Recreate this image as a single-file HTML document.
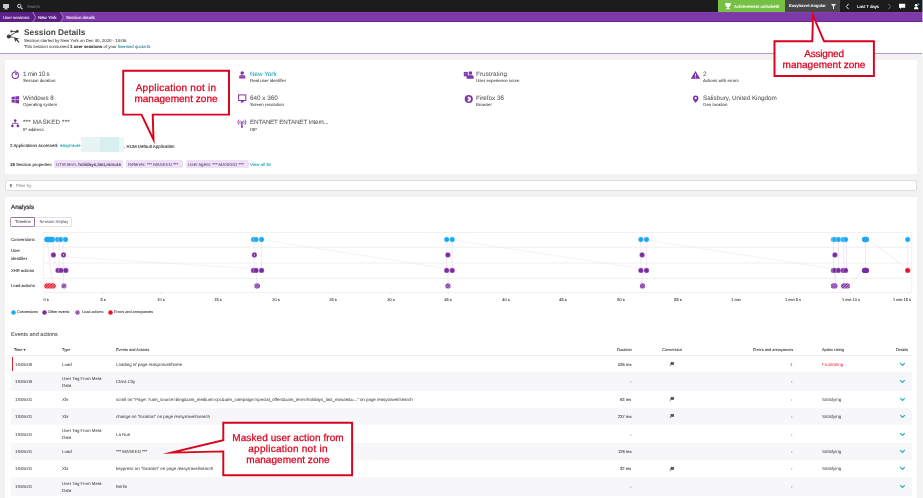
<!DOCTYPE html>
<html><head><meta charset="utf-8"><title>Session Details</title>
<style>
html,body{margin:0;padding:0;}
body{width:923px;height:498px;overflow:hidden;position:relative;background:#f2f2f2;font-family:"Liberation Sans", sans-serif;}
.t{position:absolute;white-space:nowrap;line-height:1;will-change:transform;text-rendering:geometricPrecision;}
.r{position:absolute;display:block;}
b{font-weight:bold;}
</style></head><body>
<div class="r" style="left:0px;top:0px;width:923.00px;height:498.00px;background:#f2f2f2;"></div>
<div class="r" style="left:0px;top:22px;width:923.00px;height:31.00px;background:#ffffff;"></div>
<div class="r" style="left:0px;top:53px;width:922.00px;height:1.00px;background:#b49bcb;"></div>
<div class="r" style="left:0px;top:0px;width:923.00px;height:11.60px;background:#1c1c1c;"></div>
<div class="r" style="left:0px;top:11.6px;width:923.00px;height:10.40px;background:#7d39a8;"></div>
<div class="r" style="left:0px;top:21px;width:923.00px;height:1.00px;background:#6d2397;"></div>
<div class="r" style="left:0px;top:11.6px;width:923.00px;height:1.00px;background:#863db0;"></div>
<svg class="r" style="left:2px;top:3px" width="8" height="7" viewBox="0 0 8 7"><rect x="1" y="1" width="6" height="4" fill="#c9c9c9"/><rect x="3" y="5" width="2" height="1" fill="#c9c9c9"/><rect x="2" y="5.6" width="4" height="0.8" fill="#c9c9c9"/></svg>
<svg class="r" style="left:16px;top:3px" width="8" height="7" viewBox="0 0 8 7"><circle cx="3.3" cy="3" r="1.7" fill="none" stroke="#e8e8e8" stroke-width="0.9"/><line x1="4.5" y1="4.3" x2="6.5" y2="6.2" stroke="#e8e8e8" stroke-width="1.1"/></svg>
<div class="t" style="top:5px;font-size:4.0px;color:#6e6e6e;left:27.00px;-webkit-text-stroke:0.1px #6e6e6e;">Search</div>
<div class="r" style="left:718px;top:0px;width:67.20px;height:11.60px;background:#76c043;"></div>
<svg class="r" style="left:724px;top:2px" width="8" height="8" viewBox="0 0 8 8"><path d="M1.3 1h5.4v1.6c0 1.5-1.1 2.6-2.7 2.6S1.3 4.1 1.3 2.6z" fill="#fff"/><rect x="3.4" y="5" width="1.2" height="1.3" fill="#fff"/><rect x="2.2" y="6.2" width="3.6" height="1" fill="#fff"/></svg>
<div class="t" style="top:5px;font-size:4.4px;color:#ffffff;left:733.70px;-webkit-text-stroke:0.1px #ffffff;">Achievement unlocked!</div>
<div class="r" style="left:785.2px;top:0px;width:54.80px;height:11.60px;background:#474747;"></div>
<div class="t" style="top:4px;font-size:4.05px;color:#ffffff;font-weight:bold;left:789.00px;">Easytravel-Angular</div>
<svg class="r" style="left:830px;top:3px" width="7" height="7" viewBox="0 0 7 7"><path d="M1 1h5L4 3.6V6H3V3.6z" fill="#ececec"/></svg>
<svg class="r" style="left:845px;top:3px" width="5" height="7" viewBox="0 0 5 7"><path d="M3.6 0.8L1.4 3.5 3.6 6.2" fill="none" stroke="#fff" stroke-width="0.9"/></svg>
<div class="t" style="top:5px;font-size:4.3px;color:#ffffff;left:857.00px;-webkit-text-stroke:0.1px #ffffff;">Last 7 days</div>
<svg class="r" style="left:887px;top:3px" width="5" height="7" viewBox="0 0 5 7"><path d="M1.4 0.8L3.6 3.5 1.4 6.2" fill="none" stroke="#888" stroke-width="0.8"/></svg>
<svg class="r" style="left:898px;top:3px" width="9" height="7" viewBox="0 0 9 7"><path d="M1 0.8h6.2v4H3.2L2 6V4.8H1z" fill="#fff"/></svg>
<svg class="r" style="left:911px;top:1px" width="11" height="10" viewBox="0 0 11 10"><circle cx="5.2" cy="4.3" r="1.4" fill="#fff"/><path d="M3 8.2c0-1.8 1-2.5 2.2-2.5s2.2.7 2.2 2.5z" fill="#fff"/><circle cx="7.4" cy="3.1" r="0.95" fill="#3fb6d6"/></svg>
<svg class="r" style="left:0px;top:11.6px" width="70" height="10.4" viewBox="0 0 70 10.4"><polygon points="0,0 32.4,0 35.4,5.2 32.4,10.4 0,10.4" fill="#5c1f86"/><polygon points="33.4,0 60.2,0 63.2,5.2 60.2,10.4 33.4,10.4 36.4,5.2" fill="#5c1f86"/><polyline points="32.6,0 35.6,5.2 32.6,10.4" fill="none" stroke="#c7a6df" stroke-width="0.6"/><polyline points="60.4,0 63.4,5.2 60.4,10.4" fill="none" stroke="#c7a6df" stroke-width="0.6"/></svg>
<div class="t" style="top:16px;font-size:4.2px;color:#e6d9f0;left:3.30px;-webkit-text-stroke:0.1px #e6d9f0;">User sessions</div>
<div class="t" style="top:16px;font-size:4.4px;color:#efe6f6;left:38.00px;-webkit-text-stroke:0.1px #efe6f6;">New York</div>
<div class="t" style="top:16px;font-size:4.3px;color:#f4eefa;left:65.70px;-webkit-text-stroke:0.1px #f4eefa;">Session details</div>
<svg class="r" style="left:5px;top:28px" width="17" height="17" viewBox="0 0 17 17"><g fill="#3d3d3d" stroke="#3d3d3d"><line x1="6.4" y1="3.4" x2="12.3" y2="3.4" stroke-width="0.9"/><line x1="12.3" y1="3.4" x2="3.8" y2="8.6" stroke-width="0.9"/><line x1="3.8" y1="8.6" x2="8.5" y2="9.4" stroke-width="0.9"/><circle cx="6.4" cy="3.4" r="1.1" stroke="none"/><circle cx="12.3" cy="3.4" r="1.4" stroke="none"/><circle cx="3.8" cy="8.6" r="2" stroke="none"/><path d="M8.8 9.2l5.2 1.3-1.8 0.9 2.4 2.5-0.9 0.9-2.4-2.5-0.9 1.8z" stroke="none"/></g></svg>
<div class="t" style="top:28px;font-size:8.3px;color:#474747;font-weight:bold;left:24.20px;">Session Details</div>
<div class="t" style="top:39px;font-size:4.3px;color:#555;left:24.20px;-webkit-text-stroke:0.1px #555;">Session started by New York on Dec 30, 2020 - 13:06.</div>
<div class="t" style="top:45px;font-size:4.3px;color:#555;left:24.20px;-webkit-text-stroke:0.1px #555;">This session consumed <b style="color:#333">3 user sessions</b> of your <span style="color:#1fa5b0">licensed quota &#x29C9;</span>.</div>
<div class="r" style="left:5px;top:60px;width:912.00px;height:114.00px;background:#ffffff;"></div>
<div class="r" style="left:5px;top:197px;width:912.00px;height:301.00px;background:#ffffff;"></div>
<div class="r" style="left:5px;top:180px;width:912.00px;height:10.70px;background:#ffffff;border:1px solid #dedede;border-radius:2px;box-sizing:border-box;"></div>
<svg class="r" style="left:8.5px;top:183.5px" width="4" height="4" viewBox="0 0 4 4"><path d="M0.3 0.5h3.2L2.3 2v1.6H1.5V2z" fill="#555"/></svg>
<div class="t" style="top:184px;font-size:4.3px;color:#9a9a9a;left:15.80px;-webkit-text-stroke:0.1px #9a9a9a;">Filter by</div>
<div class="t" style="top:72px;font-size:6.3px;color:#5a5a5a;left:23.00px;-webkit-text-stroke:0.05px #5a5a5a;letter-spacing:-0.27px;">1 min 10 s</div>
<div class="t" style="top:79px;font-size:4.35px;color:#333;left:23.00px;-webkit-text-stroke:0.03px #333;">Session duration</div>
<div class="t" style="top:96px;font-size:6.3px;color:#5a5a5a;left:23.00px;-webkit-text-stroke:0.05px #5a5a5a;letter-spacing:0px;">Windows 8</div>
<div class="t" style="top:103px;font-size:4.35px;color:#333;left:23.00px;-webkit-text-stroke:0.03px #333;">Operating system</div>
<div class="t" style="top:120px;font-size:6.3px;color:#5a5a5a;left:23.00px;-webkit-text-stroke:0.05px #5a5a5a;letter-spacing:0.15px;">*** MASKED ***</div>
<div class="t" style="top:128px;font-size:4.35px;color:#333;left:23.00px;-webkit-text-stroke:0.03px #333;">IP address</div>
<div class="t" style="top:72px;font-size:6.3px;color:#1fa5b0;left:249.60px;-webkit-text-stroke:0.05px #1fa5b0;letter-spacing:0px;">New York</div>
<div class="t" style="top:79px;font-size:4.35px;color:#333;left:249.60px;-webkit-text-stroke:0.03px #333;">Real user identifier</div>
<div class="t" style="top:96px;font-size:6.3px;color:#5a5a5a;left:249.60px;-webkit-text-stroke:0.05px #5a5a5a;letter-spacing:0px;">640 x 360</div>
<div class="t" style="top:103px;font-size:4.35px;color:#333;left:249.60px;-webkit-text-stroke:0.03px #333;">Screen resolution</div>
<div class="t" style="top:120px;font-size:6.3px;color:#5a5a5a;left:249.60px;-webkit-text-stroke:0.05px #5a5a5a;letter-spacing:-0.16px;">ENTANET ENTANET Intern...</div>
<div class="t" style="top:128px;font-size:4.35px;color:#333;left:249.60px;-webkit-text-stroke:0.03px #333;">ISP</div>
<div class="t" style="top:72px;font-size:6.3px;color:#5a5a5a;left:476.00px;-webkit-text-stroke:0.05px #5a5a5a;letter-spacing:0.08px;">Frustrating</div>
<div class="t" style="top:79px;font-size:4.35px;color:#333;left:476.00px;-webkit-text-stroke:0.03px #333;">User experience score</div>
<div class="t" style="top:96px;font-size:6.3px;color:#5a5a5a;left:476.00px;-webkit-text-stroke:0.05px #5a5a5a;letter-spacing:0px;">Firefox 36</div>
<div class="t" style="top:103px;font-size:4.35px;color:#333;left:476.00px;-webkit-text-stroke:0.03px #333;">Browser</div>
<div class="t" style="top:72px;font-size:6.3px;color:#5a5a5a;left:703.00px;-webkit-text-stroke:0.05px #5a5a5a;letter-spacing:0px;">2</div>
<div class="t" style="top:79px;font-size:4.35px;color:#333;left:703.00px;-webkit-text-stroke:0.03px #333;">Actions with errors</div>
<div class="t" style="top:96px;font-size:6.3px;color:#5a5a5a;left:703.00px;-webkit-text-stroke:0.05px #5a5a5a;letter-spacing:0px;">Salisbury, United Kingdom</div>
<div class="t" style="top:103px;font-size:4.35px;color:#333;left:703.00px;-webkit-text-stroke:0.03px #333;">Geo location</div>
<svg class="r" style="left:0px;top:0px" width="923" height="140" viewBox="0 0 923 140"><circle cx="15.3" cy="75.2" r="3.2" fill="none" stroke="#7c34a6" stroke-width="1.05"/><path d="M15.3 75.2V72.9A2.3 2.3 0 0 1 17.5 74.6z" fill="#7c34a6"/><rect x="14.4" y="70.6" width="1.8" height="0.8" fill="#7c34a6"/><g fill="#7c34a6"><path d="M11.6 96.9l3.2-.45v2.95h-3.2z"/><path d="M15.3 96.4l3.8-.5v3.5h-3.8z"/><path d="M11.6 99.9h3.2v2.95l-3.2-.45z"/><path d="M15.3 99.9h3.8v3.5l-3.8-.5z"/></g><g fill="#7c34a6"><circle cx="15.2" cy="120.6" r="1.3"/><circle cx="12.4" cy="126" r="1.35"/><circle cx="17.9" cy="126" r="1.35"/></g><path d="M15.2 121.5V123.4M12.4 125V123.4H17.9V125" fill="none" stroke="#7c34a6" stroke-width="0.75"/><g fill="#7c34a6"><circle cx="242.2" cy="73.1" r="1.75"/><path d="M239.2 78.5V76.6c0-.9.6-1.4 1.4-1.4h3.3c.8 0 1.4.5 1.4 1.4v1.9z"/></g><line x1="239.2" y1="76.9" x2="245.3" y2="76.9" stroke="#d9c4e6" stroke-width="0.35"/><rect x="238.6" y="94.9" width="7.2" height="5.6" fill="none" stroke="#7c34a6" stroke-width="1"/><path d="M240.6 102.5h3.2l-0.5-1.6h-2.2z" fill="#7c34a6"/><g fill="none" stroke="#7c34a6" stroke-width="0.8"><path d="M238.9 119.6a4.2 4.2 0 0 0 0 5.2M245.0 119.6a4.2 4.2 0 0 1 0 5.2"/><path d="M240.4 120.6a2.3 2.3 0 0 0 0 3.2M243.5 120.6a2.3 2.3 0 0 1 0 3.2"/></g><circle cx="241.95" cy="122.2" r="0.9" fill="#7c34a6"/><path d="M241.45 122.6h1l0.4 5.2h-1.8z" fill="#7c34a6"/><rect x="463.8" y="71.9" width="4" height="4.4" fill="#7c34a6"/><path d="M464.5 73.3h2.5M464.5 74.8h1.6" stroke="#c9a9dc" stroke-width="0.4"/><g fill="#7c34a6"><circle cx="470.4" cy="73" r="1.85"/><path d="M466.6 78.7v-1.9c0-.9.7-1.5 1.6-1.5h3.8c.9 0 1.6.6 1.6 1.5v1.9z"/></g><circle cx="468.75" cy="99" r="4.05" fill="#7c34a6"/><path d="M468.3 96.6c1.6-.1 2.7 1.2 2.6 2.6-.1 1.4-1.4 2.4-2.7 2.3-.9-.1-1.5-.6-1.8-1.3.8.5 2 .2 2.2-.7.2-.8-.5-1.4-1.2-1.3.2-.6.5-1.1.9-1.6z" fill="#fff"/><path d="M695.5 71L700.2 78.8H690.8z" fill="#7c34a6"/><rect x="695.1" y="73.8" width="0.8" height="2.7" fill="#fff"/><rect x="695.1" y="77.0" width="0.8" height="0.8" fill="#fff"/><path d="M695.65 95.5c1.6 0 2.75 1.15 2.75 2.7 0 1.8-2.75 4.6-2.75 4.6s-2.75-2.8-2.75-4.6c0-1.55 1.15-2.7 2.75-2.7z" fill="#7c34a6"/><circle cx="695.65" cy="98.1" r="1.15" fill="#fff"/></svg>
<div class="t" style="top:144px;font-size:4.4px;color:#3a3a3a;left:10.00px;-webkit-text-stroke:0.1px #3a3a3a;">2 Applications accessed:</div>
<div class="t" style="top:144px;font-size:4.4px;color:#1fa5b0;left:59.50px;-webkit-text-stroke:0.1px #1fa5b0;">easytravel-</div>
<div class="r" style="left:80.6px;top:137px;width:19.10px;height:14.70px;background:#e6f4f4;"></div>
<div class="r" style="left:99.7px;top:137px;width:19.60px;height:14.70px;background:#d8eeef;"></div>
<div class="r" style="left:119.3px;top:137px;width:4.70px;height:14.70px;background:#eef7f7;"></div>
<div class="t" style="top:145px;font-size:4.45px;color:#3a3a3a;left:124.30px;-webkit-text-stroke:0.1px #3a3a3a;">, RUM Default Application</div>
<div class="t" style="top:163px;font-size:4.3px;color:#3a3a3a;left:10.00px;-webkit-text-stroke:0.1px #3a3a3a;"><b>19</b> Session properties</div>
<div class="r" style="left:53.6px;top:160.3px;width:69.90px;height:7.90px;background:#efe0f8;border-radius:1.5px;"></div>
<div class="t" style="top:163px;font-size:4.45px;color:#5e4a70;left:55.90px;-webkit-text-stroke:0.04px #5e4a70;">UTM term: <b>holidays,last,minute</b></div>
<div class="r" style="left:126px;top:160.3px;width:57.00px;height:7.90px;background:#efe0f8;border-radius:1.5px;"></div>
<div class="t" style="top:163px;font-size:4.45px;color:#5e4a70;left:128.30px;-webkit-text-stroke:0.04px #5e4a70;">Referrer: *** MASKED ***</div>
<div class="r" style="left:186px;top:160.3px;width:62.60px;height:7.90px;background:#efe0f8;border-radius:1.5px;"></div>
<div class="t" style="top:163px;font-size:4.45px;color:#5e4a70;left:188.30px;-webkit-text-stroke:0.04px #5e4a70;">User agent: *** MASKED ***</div>
<div class="t" style="top:163px;font-size:4.3px;color:#1fa5b0;left:250.00px;-webkit-text-stroke:0.1px #1fa5b0;">View all 19</div>
<div class="t" style="top:205px;font-size:6.2px;color:#2e2e2e;left:10.50px;-webkit-text-stroke:0.22px #2e2e2e;">Analysis</div>
<div class="r" style="left:35.2px;top:216.6px;width:37.30px;height:10.00px;background:#fff;border:1px solid #e2e2e2;border-left:none;border-radius:0 1.5px 1.5px 0;box-sizing:border-box;"></div>
<div class="r" style="left:10.4px;top:216.6px;width:25.00px;height:10.00px;background:#fff;border:1px solid #8d7a9a;border-left-color:#b49bc6;border-bottom-color:#a78bbb;border-radius:1.5px;box-sizing:border-box;"></div>
<div class="t" style="top:220px;font-size:4.25px;color:#4a4a4a;left:-177.30px;width:400px;text-align:center;-webkit-text-stroke:0.05px #4a4a4a;">Timeline</div>
<div class="t" style="top:220px;font-size:4.15px;color:#6d5f78;left:-146.30px;width:400px;text-align:center;-webkit-text-stroke:0.05px #6d5f78;">Session Replay</div>
<div class="t" style="top:238px;font-size:4.25px;color:#3a3a3a;left:10.50px;-webkit-text-stroke:0.1px #3a3a3a;">Conversions</div>
<div class="t" style="top:249px;font-size:4.25px;color:#3a3a3a;left:10.50px;-webkit-text-stroke:0.1px #3a3a3a;">User</div>
<div class="t" style="top:257px;font-size:4.25px;color:#3a3a3a;left:10.50px;-webkit-text-stroke:0.1px #3a3a3a;">identifier</div>
<div class="t" style="top:269px;font-size:4.15px;color:#3a3a3a;left:10.50px;-webkit-text-stroke:0.1px #3a3a3a;">XHR actions</div>
<div class="t" style="top:284px;font-size:4.2px;color:#3a3a3a;left:10.50px;-webkit-text-stroke:0.1px #3a3a3a;">Load actions</div>
<div class="t" style="top:298px;font-size:3.9px;color:#444;left:-154.10px;width:400px;text-align:center;-webkit-text-stroke:0.1px #444;">0 s</div>
<div class="t" style="top:298px;font-size:3.9px;color:#444;left:-96.60px;width:400px;text-align:center;-webkit-text-stroke:0.1px #444;">5 s</div>
<div class="t" style="top:298px;font-size:3.9px;color:#444;left:-39.10px;width:400px;text-align:center;-webkit-text-stroke:0.1px #444;">10 s</div>
<div class="t" style="top:298px;font-size:3.9px;color:#444;left:18.40px;width:400px;text-align:center;-webkit-text-stroke:0.1px #444;">15 s</div>
<div class="t" style="top:298px;font-size:3.9px;color:#444;left:75.90px;width:400px;text-align:center;-webkit-text-stroke:0.1px #444;">20 s</div>
<div class="t" style="top:298px;font-size:3.9px;color:#444;left:133.40px;width:400px;text-align:center;-webkit-text-stroke:0.1px #444;">25 s</div>
<div class="t" style="top:298px;font-size:3.9px;color:#444;left:190.90px;width:400px;text-align:center;-webkit-text-stroke:0.1px #444;">30 s</div>
<div class="t" style="top:298px;font-size:3.9px;color:#444;left:248.40px;width:400px;text-align:center;-webkit-text-stroke:0.1px #444;">35 s</div>
<div class="t" style="top:298px;font-size:3.9px;color:#444;left:305.90px;width:400px;text-align:center;-webkit-text-stroke:0.1px #444;">40 s</div>
<div class="t" style="top:298px;font-size:3.9px;color:#444;left:363.40px;width:400px;text-align:center;-webkit-text-stroke:0.1px #444;">45 s</div>
<div class="t" style="top:298px;font-size:3.9px;color:#444;left:420.90px;width:400px;text-align:center;-webkit-text-stroke:0.1px #444;">50 s</div>
<div class="t" style="top:298px;font-size:3.9px;color:#444;left:478.40px;width:400px;text-align:center;-webkit-text-stroke:0.1px #444;">55 s</div>
<div class="t" style="top:298px;font-size:3.9px;color:#444;left:535.90px;width:400px;text-align:center;-webkit-text-stroke:0.1px #444;">1 min</div>
<div class="t" style="top:298px;font-size:3.9px;color:#444;left:593.40px;width:400px;text-align:center;-webkit-text-stroke:0.1px #444;">1 min 5 s</div>
<div class="t" style="top:298px;font-size:3.9px;color:#444;left:650.90px;width:400px;text-align:center;-webkit-text-stroke:0.1px #444;">1 min 10 s</div>
<div class="t" style="top:298px;font-size:3.9px;color:#444;right:12.00px;-webkit-text-stroke:0.1px #444;">1 min 15 s</div>
<svg class="r" style="left:0px;top:0px" width="923" height="320" viewBox="0 0 923 320"><defs><pattern id="hp" patternUnits="userSpaceOnUse" width="2.0" height="2.0" patternTransform="rotate(45)"><rect width="2.0" height="2.0" fill="#7a2c9e"/><rect width="0.7" height="2.0" fill="#d4b6e6"/></pattern><pattern id="hr" patternUnits="userSpaceOnUse" width="2.0" height="2.0" patternTransform="rotate(45)"><rect width="2.0" height="2.0" fill="#e3142c"/><rect width="0.7" height="2.0" fill="#f7b3bd"/></pattern></defs><rect x="43.2" y="232.6" width="868.6" height="60" fill="#fff" stroke="#ececec" stroke-width="0.7"/><line x1="43.2" x2="911.8" y1="247.2" y2="247.2" stroke="#ececec" stroke-width="0.8"/><line x1="43.2" x2="911.8" y1="263.0" y2="263.0" stroke="#ececec" stroke-width="0.8"/><line x1="43.2" x2="911.8" y1="278.4" y2="278.4" stroke="#ececec" stroke-width="0.8"/><line x1="45.9" x2="45.9" y1="292.6" y2="294.2" stroke="#d0d0d0" stroke-width="0.5"/><line x1="103.4" x2="103.4" y1="292.6" y2="294.2" stroke="#d0d0d0" stroke-width="0.5"/><line x1="160.9" x2="160.9" y1="292.6" y2="294.2" stroke="#d0d0d0" stroke-width="0.5"/><line x1="218.4" x2="218.4" y1="292.6" y2="294.2" stroke="#d0d0d0" stroke-width="0.5"/><line x1="275.9" x2="275.9" y1="292.6" y2="294.2" stroke="#d0d0d0" stroke-width="0.5"/><line x1="333.4" x2="333.4" y1="292.6" y2="294.2" stroke="#d0d0d0" stroke-width="0.5"/><line x1="390.9" x2="390.9" y1="292.6" y2="294.2" stroke="#d0d0d0" stroke-width="0.5"/><line x1="448.4" x2="448.4" y1="292.6" y2="294.2" stroke="#d0d0d0" stroke-width="0.5"/><line x1="505.9" x2="505.9" y1="292.6" y2="294.2" stroke="#d0d0d0" stroke-width="0.5"/><line x1="563.4" x2="563.4" y1="292.6" y2="294.2" stroke="#d0d0d0" stroke-width="0.5"/><line x1="620.9" x2="620.9" y1="292.6" y2="294.2" stroke="#d0d0d0" stroke-width="0.5"/><line x1="678.4" x2="678.4" y1="292.6" y2="294.2" stroke="#d0d0d0" stroke-width="0.5"/><line x1="735.9" x2="735.9" y1="292.6" y2="294.2" stroke="#d0d0d0" stroke-width="0.5"/><line x1="793.4" x2="793.4" y1="292.6" y2="294.2" stroke="#d0d0d0" stroke-width="0.5"/><line x1="850.9" x2="850.9" y1="292.6" y2="294.2" stroke="#d0d0d0" stroke-width="0.5"/><line x1="908.4" x2="908.4" y1="292.6" y2="294.2" stroke="#d0d0d0" stroke-width="0.5"/><line x1="47.5" y1="242" x2="52.5" y2="283.5" stroke="#ebdcf3" stroke-width="0.6"/><line x1="53.4" y1="241" x2="53.4" y2="253" stroke="#ebdcf3" stroke-width="0.6"/><line x1="53.4" y1="257" x2="57.5" y2="268.5" stroke="#ebdcf3" stroke-width="0.6"/><line x1="59" y1="241" x2="59" y2="268" stroke="#ebdcf3" stroke-width="0.6"/><line x1="63.2" y1="241" x2="63.5" y2="284" stroke="#ebdcf3" stroke-width="0.6"/><line x1="66" y1="257" x2="252" y2="268.5" stroke="#ede2f3" stroke-width="0.5"/><line x1="264" y1="240" x2="446" y2="268.5" stroke="#ede2f3" stroke-width="0.5"/><line x1="452.5" y1="240" x2="640.5" y2="268.5" stroke="#ede2f3" stroke-width="0.5"/><line x1="646.5" y1="240" x2="831" y2="268.5" stroke="#ede2f3" stroke-width="0.5"/><line x1="869" y1="240" x2="907.5" y2="269" stroke="#e4d6ec" stroke-width="0.5"/><line x1="850" y1="285.5" x2="862" y2="271" stroke="#e4d6ec" stroke-width="0.5"/><line x1="254.4" y1="241" x2="254.4" y2="268.5" stroke="#ebdcf3" stroke-width="0.6"/><line x1="261.5" y1="241" x2="261.5" y2="268.5" stroke="#ebdcf3" stroke-width="0.6"/><line x1="446.7" y1="241" x2="446.7" y2="268.5" stroke="#ebdcf3" stroke-width="0.6"/><line x1="452.2" y1="241" x2="452.2" y2="268.5" stroke="#ebdcf3" stroke-width="0.6"/><line x1="640.9" y1="241" x2="640.9" y2="268.5" stroke="#ebdcf3" stroke-width="0.6"/><line x1="646.5" y1="241" x2="646.5" y2="268.5" stroke="#ebdcf3" stroke-width="0.6"/><line x1="833.5" y1="241" x2="833.5" y2="268.5" stroke="#ebdcf3" stroke-width="0.6"/><line x1="838.5" y1="241" x2="838.5" y2="268.5" stroke="#ebdcf3" stroke-width="0.6"/><line x1="844" y1="241" x2="844" y2="268.5" stroke="#ebdcf3" stroke-width="0.6"/><line x1="846.5" y1="241" x2="846.5" y2="268.5" stroke="#ebdcf3" stroke-width="0.6"/><line x1="865.5" y1="241" x2="865.5" y2="268.5" stroke="#ebdcf3" stroke-width="0.6"/><line x1="907.7" y1="241" x2="907.7" y2="268.5" stroke="#ebdcf3" stroke-width="0.6"/><line x1="256.5" y1="272" x2="256.5" y2="284" stroke="#ebdcf3" stroke-width="0.6"/><line x1="447.9" y1="272" x2="447.9" y2="284" stroke="#ebdcf3" stroke-width="0.6"/><line x1="642.2" y1="272" x2="642.2" y2="284" stroke="#ebdcf3" stroke-width="0.6"/><line x1="834" y1="272" x2="834" y2="284" stroke="#ebdcf3" stroke-width="0.6"/><line x1="835.5" y1="272" x2="835.5" y2="284" stroke="#ebdcf3" stroke-width="0.6"/><line x1="843.5" y1="272" x2="843.5" y2="284" stroke="#ebdcf3" stroke-width="0.6"/><rect x="44.2" y="236.85" width="10.799999999999997" height="5.3" rx="2.65" fill="#1fa8ef"/><circle cx="57.6" cy="239.5" r="2.65" fill="#1fa8ef" stroke="#fff" stroke-width="0.35"/><circle cx="60.6" cy="239.5" r="2.65" fill="#1fa8ef" stroke="#fff" stroke-width="0.35"/><circle cx="65.5" cy="239.5" r="2.65" fill="#1fa8ef" stroke="#fff" stroke-width="0.35"/><circle cx="53.4" cy="254.9" r="2.65" fill="#7a2c9e" stroke="#fff" stroke-width="0.35"/><circle cx="63.5" cy="254.9" r="2.65" fill="#7a2c9e" stroke="#fff" stroke-width="0.35"/><circle cx="63.5" cy="254.9" r="0.7" fill="#fff"/><circle cx="58" cy="270.4" r="2.65" fill="#7a2c9e" stroke="#fff" stroke-width="0.35"/><circle cx="61" cy="270.4" r="2.65" fill="#7a2c9e" stroke="#fff" stroke-width="0.35"/><circle cx="65.8" cy="270.4" r="2.65" fill="#7a2c9e" stroke="#fff" stroke-width="0.35"/><rect x="44.2" y="283.25" width="11.699999999999996" height="5.3" rx="2.65" fill="url(#hr)"/><circle cx="63.9" cy="285.9" r="2.65" fill="url(#hp)" stroke="#fff" stroke-width="0.35"/><circle cx="253.5" cy="239.5" r="2.65" fill="#1fa8ef" stroke="#fff" stroke-width="0.35"/><circle cx="256.1" cy="239.5" r="2.65" fill="#1fa8ef" stroke="#fff" stroke-width="0.35"/><circle cx="261.6" cy="239.5" r="2.65" fill="#1fa8ef" stroke="#fff" stroke-width="0.35"/><circle cx="254.4" cy="254.9" r="2.65" fill="#7a2c9e" stroke="#fff" stroke-width="0.35"/><circle cx="254.4" cy="254.9" r="0.6" fill="#fff"/><circle cx="253.5" cy="270.4" r="2.65" fill="#7a2c9e" stroke="#fff" stroke-width="0.35"/><circle cx="256.1" cy="270.4" r="2.65" fill="#7a2c9e" stroke="#fff" stroke-width="0.35"/><circle cx="261.6" cy="270.4" r="2.65" fill="#7a2c9e" stroke="#fff" stroke-width="0.35"/><rect x="254.3" y="283.25" width="5.800000000000011" height="5.3" rx="2.65" fill="url(#hp)"/><circle cx="446.7" cy="239.5" r="2.65" fill="#1fa8ef" stroke="#fff" stroke-width="0.35"/><circle cx="452.2" cy="239.5" r="2.65" fill="#1fa8ef" stroke="#fff" stroke-width="0.35"/><circle cx="447.9" cy="254.9" r="2.65" fill="#7a2c9e" stroke="#fff" stroke-width="0.35"/><circle cx="446.7" cy="270.4" r="2.65" fill="#7a2c9e" stroke="#fff" stroke-width="0.35"/><circle cx="452.2" cy="270.4" r="2.65" fill="#7a2c9e" stroke="#fff" stroke-width="0.35"/><rect x="445.3" y="283.25" width="5.300000000000011" height="5.3" rx="2.65" fill="url(#hp)"/><circle cx="640.9" cy="239.5" r="2.65" fill="#1fa8ef" stroke="#fff" stroke-width="0.35"/><circle cx="646.5" cy="239.5" r="2.65" fill="#1fa8ef" stroke="#fff" stroke-width="0.35"/><circle cx="642.1" cy="254.9" r="2.65" fill="#7a2c9e" stroke="#fff" stroke-width="0.35"/><circle cx="640.9" cy="270.4" r="2.65" fill="#7a2c9e" stroke="#fff" stroke-width="0.35"/><circle cx="646.5" cy="270.4" r="2.65" fill="#7a2c9e" stroke="#fff" stroke-width="0.35"/><rect x="639.8" y="283.25" width="5.400000000000091" height="5.3" rx="2.65" fill="url(#hp)"/><circle cx="833.4" cy="239.5" r="2.65" fill="#1fa8ef" stroke="#fff" stroke-width="0.35"/><circle cx="834.6" cy="239.5" r="2.65" fill="#1fa8ef" stroke="#fff" stroke-width="0.35"/><circle cx="838.4" cy="239.5" r="2.65" fill="#1fa8ef" stroke="#fff" stroke-width="0.35"/><circle cx="843.2" cy="239.5" r="2.65" fill="#1fa8ef" stroke="#fff" stroke-width="0.35"/><circle cx="845.6" cy="239.5" r="2.65" fill="#1fa8ef" stroke="#fff" stroke-width="0.35"/><circle cx="834.9" cy="254.9" r="2.65" fill="#7a2c9e" stroke="#fff" stroke-width="0.35"/><circle cx="833.4" cy="270.4" r="2.65" fill="#7a2c9e" stroke="#fff" stroke-width="0.35"/><circle cx="834.6" cy="270.4" r="2.65" fill="#7a2c9e" stroke="#fff" stroke-width="0.35"/><circle cx="838.4" cy="270.4" r="2.65" fill="#7a2c9e" stroke="#fff" stroke-width="0.35"/><circle cx="843.2" cy="270.4" r="2.65" fill="#7a2c9e" stroke="#fff" stroke-width="0.35"/><circle cx="845.6" cy="270.4" r="2.65" fill="#7a2c9e" stroke="#fff" stroke-width="0.35"/><rect x="830.8" y="283.25" width="6.800000000000068" height="5.3" rx="2.65" fill="url(#hp)"/><rect x="841" y="283.25" width="9" height="5.3" rx="2.65" fill="url(#hp)"/><rect x="861.9" y="236.85" width="7.2000000000000455" height="5.3" rx="2.65" fill="#1fa8ef"/><rect x="861.9" y="267.75" width="7.2000000000000455" height="5.3" rx="2.65" fill="#7a2c9e"/><circle cx="907.7" cy="239.5" r="2.65" fill="#1fa8ef" stroke="#fff" stroke-width="0.35"/><circle cx="907.7" cy="270.4" r="2.65" fill="#e3142c" stroke="#fff" stroke-width="0.35"/></svg>
<svg class="r" style="left:10.5px;top:309.5px" width="5" height="5" viewBox="0 0 5 5"><circle cx="2.5" cy="2.5" r="2.25" fill="#1fa8ef"/></svg>
<div class="t" style="top:311px;font-size:3.75px;color:#444;left:16.60px;-webkit-text-stroke:0.1px #444;">Conversions</div>
<svg class="r" style="left:42.0px;top:309.5px" width="5" height="5" viewBox="0 0 5 5"><circle cx="2.5" cy="2.5" r="2.25" fill="#7a2c9e"/></svg>
<div class="t" style="top:311px;font-size:3.75px;color:#444;left:48.20px;-webkit-text-stroke:0.1px #444;">Other events</div>
<svg class="r" style="left:75.3px;top:309.5px" width="5" height="5" viewBox="0 0 5 5"><circle cx="2.5" cy="2.5" r="2.25" fill="url(#hp)"/></svg>
<div class="t" style="top:311px;font-size:3.75px;color:#444;left:81.50px;-webkit-text-stroke:0.1px #444;">Load actions</div>
<svg class="r" style="left:107.9px;top:309.5px" width="5" height="5" viewBox="0 0 5 5"><circle cx="2.5" cy="2.5" r="2.25" fill="#e3142c"/></svg>
<div class="t" style="top:311px;font-size:3.75px;color:#444;left:113.90px;-webkit-text-stroke:0.1px #444;">Errors and annoyances</div>
<div class="t" style="top:333px;font-size:5.55px;color:#444;left:10.70px;-webkit-text-stroke:0.05px #444;">Events and actions</div>
<div class="t" style="top:348px;font-size:3.9px;color:#333;left:14.20px;-webkit-text-stroke:0.1px #333;">Time &#9662;</div>
<div class="t" style="top:348px;font-size:3.9px;color:#444;left:62.20px;-webkit-text-stroke:0.1px #444;">Type</div>
<div class="t" style="top:348px;font-size:3.9px;color:#444;left:116.00px;-webkit-text-stroke:0.1px #444;">Events and Actions</div>
<div class="t" style="top:348px;font-size:3.9px;color:#444;right:291.70px;-webkit-text-stroke:0.1px #444;">Duration</div>
<div class="t" style="top:348px;font-size:3.9px;color:#444;left:471.60px;width:400px;text-align:center;-webkit-text-stroke:0.1px #444;">Conversion</div>
<div class="t" style="top:348px;font-size:3.9px;color:#444;right:130.00px;-webkit-text-stroke:0.1px #444;">Errors and annoyances</div>
<div class="t" style="top:348px;font-size:3.9px;color:#444;left:822.40px;-webkit-text-stroke:0.1px #444;">Apdex rating</div>
<div class="t" style="top:348px;font-size:3.9px;color:#444;right:14.70px;-webkit-text-stroke:0.1px #444;">Details</div>
<div class="r" style="left:10.5px;top:355.2px;width:901.50px;height:0.70px;background:#ececec;"></div>
<div class="t" style="top:363px;font-size:4.4px;color:#3a3a3a;left:14.90px;-webkit-text-stroke:0.05px #3a3a3a;">13:06:00</div>
<div class="t" style="top:363px;font-size:4.35px;color:#4c4c4c;left:62.20px;-webkit-text-stroke:0.05px #4c4c4c;">Load</div>
<div class="t" style="top:363px;font-size:4.4px;color:#4c4c4c;left:116.00px;-webkit-text-stroke:0.05px #4c4c4c;">Loading of page /easytravel/home</div>
<div class="t" style="top:363px;font-size:4.1px;color:#444;right:291.70px;-webkit-text-stroke:0.1px #444;">536 ms</div>
<svg class="r" style="left:668.5px;top:360.84999999999997px" width="6" height="6" viewBox="0 0 6 6"><path d="M1.1 5.2L2.1 1.1" stroke="#444" stroke-width="0.6"/><path d="M2 1.2c.9-.5 1.6.1 2.4-.1l0.8 0.4-0.6 2.4c-.9.2-1.6-.4-2.5.1z" fill="#444"/><path d="M3 1.3l.5 1.1M4.1 1.4l.4 1.1" stroke="#bbb" stroke-width="0.35"/></svg>
<div class="t" style="top:363px;font-size:4.1px;color:#e2364a;right:130.40px;-webkit-text-stroke:0.12px #e2364a;">1</div>
<div class="t" style="top:363px;font-size:4.45px;color:#e2364a;left:822.40px;-webkit-text-stroke:0.03px #e2364a;">Frustrating</div>
<svg class="r" style="left:899px;top:361.65px" width="7" height="5" viewBox="0 0 7 5"><path d="M1.2 1.1L3.5 3.4 5.8 1.1" fill="none" stroke="#2aadad" stroke-width="1.25"/></svg>
<div class="r" style="left:10.5px;top:372.4px;width:901.50px;height:18.50px;background:#f7f7f9;"></div>
<div class="t" style="top:380px;font-size:4.4px;color:#3a3a3a;left:14.90px;-webkit-text-stroke:0.05px #3a3a3a;">13:06:00</div>
<div class="t" style="top:377px;font-size:4.35px;color:#4c4c4c;left:62.20px;-webkit-text-stroke:0.05px #4c4c4c;">User Tag From Meta</div>
<div class="t" style="top:384px;font-size:4.35px;color:#4c4c4c;left:62.20px;-webkit-text-stroke:0.05px #4c4c4c;">Data</div>
<div class="t" style="top:380px;font-size:4.4px;color:#4c4c4c;left:116.00px;-webkit-text-stroke:0.05px #4c4c4c;">Clara City</div>
<div class="t" style="top:380px;font-size:4.1px;color:#444;right:291.70px;-webkit-text-stroke:0.1px #444;">-</div>
<div class="t" style="top:380px;font-size:4.1px;color:#444;right:130.40px;-webkit-text-stroke:0.12px #444;">-</div>
<svg class="r" style="left:899px;top:379.15px" width="7" height="5" viewBox="0 0 7 5"><path d="M1.2 1.1L3.5 3.4 5.8 1.1" fill="none" stroke="#2aadad" stroke-width="1.25"/></svg>
<div class="t" style="top:398px;font-size:4.4px;color:#3a3a3a;left:14.90px;-webkit-text-stroke:0.05px #3a3a3a;">13:06:01</div>
<div class="t" style="top:398px;font-size:4.35px;color:#4c4c4c;left:62.20px;-webkit-text-stroke:0.05px #4c4c4c;">Xhr</div>
<div class="t" style="top:398px;font-size:4.4px;color:#4c4c4c;left:116.00px;-webkit-text-stroke:0.05px #4c4c4c;">scroll on &quot;Page: ?utm_source=bing&amp;utm_medium=cpc&amp;utm_campaign=special_offers&amp;utm_term=holidays_last_minute&amp;u...&quot; on page /easytravel/search</div>
<div class="t" style="top:398px;font-size:4.1px;color:#444;right:291.70px;-webkit-text-stroke:0.1px #444;">63 ms</div>
<svg class="r" style="left:668.5px;top:396.15px" width="6" height="6" viewBox="0 0 6 6"><path d="M1.1 5.2L2.1 1.1" stroke="#444" stroke-width="0.6"/><path d="M2 1.2c.9-.5 1.6.1 2.4-.1l0.8 0.4-0.6 2.4c-.9.2-1.6-.4-2.5.1z" fill="#444"/><path d="M3 1.3l.5 1.1M4.1 1.4l.4 1.1" stroke="#bbb" stroke-width="0.35"/></svg>
<div class="t" style="top:398px;font-size:4.1px;color:#444;right:130.40px;-webkit-text-stroke:0.12px #444;">-</div>
<div class="t" style="top:398px;font-size:4.45px;color:#4a4a4a;left:822.40px;-webkit-text-stroke:0.03px #4a4a4a;">Satisfying</div>
<svg class="r" style="left:899px;top:396.95px" width="7" height="5" viewBox="0 0 7 5"><path d="M1.2 1.1L3.5 3.4 5.8 1.1" fill="none" stroke="#2aadad" stroke-width="1.25"/></svg>
<div class="r" style="left:10.5px;top:408.0px;width:901.50px;height:17.00px;background:#f7f7f9;"></div>
<div class="t" style="top:415px;font-size:4.4px;color:#3a3a3a;left:14.90px;-webkit-text-stroke:0.05px #3a3a3a;">13:06:01</div>
<div class="t" style="top:415px;font-size:4.35px;color:#4c4c4c;left:62.20px;-webkit-text-stroke:0.05px #4c4c4c;">Xhr</div>
<div class="t" style="top:415px;font-size:4.4px;color:#4c4c4c;left:116.00px;-webkit-text-stroke:0.05px #4c4c4c;">change on &quot;location&quot; on page /easytravel/search</div>
<div class="t" style="top:415px;font-size:4.1px;color:#444;right:291.70px;-webkit-text-stroke:0.1px #444;">237 ms</div>
<svg class="r" style="left:668.5px;top:413.2px" width="6" height="6" viewBox="0 0 6 6"><path d="M1.1 5.2L2.1 1.1" stroke="#444" stroke-width="0.6"/><path d="M2 1.2c.9-.5 1.6.1 2.4-.1l0.8 0.4-0.6 2.4c-.9.2-1.6-.4-2.5.1z" fill="#444"/><path d="M3 1.3l.5 1.1M4.1 1.4l.4 1.1" stroke="#bbb" stroke-width="0.35"/></svg>
<div class="t" style="top:415px;font-size:4.1px;color:#444;right:130.40px;-webkit-text-stroke:0.12px #444;">-</div>
<div class="t" style="top:415px;font-size:4.45px;color:#4a4a4a;left:822.40px;-webkit-text-stroke:0.03px #4a4a4a;">Satisfying</div>
<svg class="r" style="left:899px;top:414.0px" width="7" height="5" viewBox="0 0 7 5"><path d="M1.2 1.1L3.5 3.4 5.8 1.1" fill="none" stroke="#2aadad" stroke-width="1.25"/></svg>
<div class="t" style="top:433px;font-size:4.4px;color:#3a3a3a;left:14.90px;-webkit-text-stroke:0.05px #3a3a3a;">13:06:01</div>
<div class="t" style="top:429px;font-size:4.35px;color:#4c4c4c;left:62.20px;-webkit-text-stroke:0.05px #4c4c4c;">User Tag From Meta</div>
<div class="t" style="top:436px;font-size:4.35px;color:#4c4c4c;left:62.20px;-webkit-text-stroke:0.05px #4c4c4c;">Data</div>
<div class="t" style="top:433px;font-size:4.4px;color:#4c4c4c;left:116.00px;-webkit-text-stroke:0.05px #4c4c4c;">La Rue</div>
<div class="t" style="top:433px;font-size:4.1px;color:#444;right:291.70px;-webkit-text-stroke:0.1px #444;">-</div>
<div class="t" style="top:433px;font-size:4.1px;color:#444;right:130.40px;-webkit-text-stroke:0.12px #444;">-</div>
<svg class="r" style="left:899px;top:431.6px" width="7" height="5" viewBox="0 0 7 5"><path d="M1.2 1.1L3.5 3.4 5.8 1.1" fill="none" stroke="#2aadad" stroke-width="1.25"/></svg>
<div class="r" style="left:10.5px;top:443.2px;width:901.50px;height:17.20px;background:#f7f7f9;"></div>
<div class="t" style="top:450px;font-size:4.4px;color:#3a3a3a;left:14.90px;-webkit-text-stroke:0.05px #3a3a3a;">13:06:01</div>
<div class="t" style="top:450px;font-size:4.35px;color:#4c4c4c;left:62.20px;-webkit-text-stroke:0.05px #4c4c4c;">Load</div>
<div class="t" style="top:450px;font-size:4.4px;color:#4c4c4c;left:116.00px;-webkit-text-stroke:0.05px #4c4c4c;">*** MASKED ***</div>
<div class="t" style="top:450px;font-size:4.1px;color:#444;right:291.70px;-webkit-text-stroke:0.1px #444;">126 ms</div>
<div class="t" style="top:450px;font-size:4.1px;color:#444;right:130.40px;-webkit-text-stroke:0.12px #444;">-</div>
<div class="t" style="top:450px;font-size:4.45px;color:#4a4a4a;left:822.40px;-webkit-text-stroke:0.03px #4a4a4a;">Satisfying</div>
<svg class="r" style="left:899px;top:449.29999999999995px" width="7" height="5" viewBox="0 0 7 5"><path d="M1.2 1.1L3.5 3.4 5.8 1.1" fill="none" stroke="#2aadad" stroke-width="1.25"/></svg>
<div class="t" style="top:467px;font-size:4.4px;color:#3a3a3a;left:14.90px;-webkit-text-stroke:0.05px #3a3a3a;">13:06:01</div>
<div class="t" style="top:467px;font-size:4.35px;color:#4c4c4c;left:62.20px;-webkit-text-stroke:0.05px #4c4c4c;">Xhr</div>
<div class="t" style="top:467px;font-size:4.4px;color:#4c4c4c;left:116.00px;-webkit-text-stroke:0.05px #4c4c4c;">keypress on &quot;location&quot; on page /easytravel/search</div>
<div class="t" style="top:467px;font-size:4.1px;color:#444;right:291.70px;-webkit-text-stroke:0.1px #444;">32 ms</div>
<svg class="r" style="left:668.5px;top:465.49999999999994px" width="6" height="6" viewBox="0 0 6 6"><path d="M1.1 5.2L2.1 1.1" stroke="#444" stroke-width="0.6"/><path d="M2 1.2c.9-.5 1.6.1 2.4-.1l0.8 0.4-0.6 2.4c-.9.2-1.6-.4-2.5.1z" fill="#444"/><path d="M3 1.3l.5 1.1M4.1 1.4l.4 1.1" stroke="#bbb" stroke-width="0.35"/></svg>
<div class="t" style="top:467px;font-size:4.1px;color:#444;right:130.40px;-webkit-text-stroke:0.12px #444;">-</div>
<div class="t" style="top:467px;font-size:4.45px;color:#4a4a4a;left:822.40px;-webkit-text-stroke:0.03px #4a4a4a;">Satisfying</div>
<svg class="r" style="left:899px;top:466.29999999999995px" width="7" height="5" viewBox="0 0 7 5"><path d="M1.2 1.1L3.5 3.4 5.8 1.1" fill="none" stroke="#2aadad" stroke-width="1.25"/></svg>
<div class="r" style="left:10.5px;top:477.2px;width:901.50px;height:18.80px;background:#f7f7f9;"></div>
<div class="t" style="top:485px;font-size:4.4px;color:#3a3a3a;left:14.90px;-webkit-text-stroke:0.05px #3a3a3a;">13:06:01</div>
<div class="t" style="top:482px;font-size:4.35px;color:#4c4c4c;left:62.20px;-webkit-text-stroke:0.05px #4c4c4c;">User Tag From Meta</div>
<div class="t" style="top:489px;font-size:4.35px;color:#4c4c4c;left:62.20px;-webkit-text-stroke:0.05px #4c4c4c;">Data</div>
<div class="t" style="top:485px;font-size:4.4px;color:#4c4c4c;left:116.00px;-webkit-text-stroke:0.05px #4c4c4c;">Berlin</div>
<div class="t" style="top:485px;font-size:4.1px;color:#444;right:291.70px;-webkit-text-stroke:0.1px #444;">-</div>
<div class="t" style="top:485px;font-size:4.1px;color:#444;right:130.40px;-webkit-text-stroke:0.12px #444;">-</div>
<svg class="r" style="left:899px;top:484.1px" width="7" height="5" viewBox="0 0 7 5"><path d="M1.2 1.1L3.5 3.4 5.8 1.1" fill="none" stroke="#2aadad" stroke-width="1.25"/></svg>
<div class="r" style="left:11.7px;top:357px;width:1.20px;height:14.00px;background:#e0202e;"></div>
<div class="r" style="left:921.8px;top:54px;width:1.20px;height:444.00px;background:#f6f6f6;"></div>
<div class="r" style="left:921.8px;top:0px;width:1.20px;height:22.00px;background:rgba(255,255,255,0.55);"></div>
<svg class="r" style="left:0;top:0" width="923" height="498"><polygon points="774.5,41.3 812.3,41.3 813,15.6 824.1,41.3 873.9,41.3 873.9,76.05 774.5,76.05" fill="#fff" stroke="#d8031f" stroke-width="1.95" stroke-linejoin="miter" stroke-miterlimit="20"/></svg>
<div class="t" style="top:50px;font-size:10px;color:#d8031f;left:624.20px;width:400px;text-align:center;-webkit-text-stroke:0.25px #d8031f;letter-spacing:-0.200px;">Assigned</div>
<div class="t" style="top:61px;font-size:10px;color:#d8031f;left:624.20px;width:400px;text-align:center;-webkit-text-stroke:0.25px #d8031f;letter-spacing:0.000px;">management zone</div>
<svg class="r" style="left:0;top:0" width="923" height="498"><polygon points="123.25,70.8 229,70.8 229,114.6 152.7,114.6 153.5,139.6 141.5,114.6 123.25,114.6" fill="#fff" stroke="#d8031f" stroke-width="1.95" stroke-linejoin="miter" stroke-miterlimit="20"/></svg>
<div class="t" style="top:84px;font-size:10px;color:#d8031f;left:-23.80px;width:400px;text-align:center;-webkit-text-stroke:0.25px #d8031f;letter-spacing:0.250px;">Application not in</div>
<div class="t" style="top:95px;font-size:10px;color:#d8031f;left:-23.80px;width:400px;text-align:center;-webkit-text-stroke:0.25px #d8031f;letter-spacing:0.020px;">management zone</div>
<svg class="r" style="left:0;top:0" width="923" height="498"><polygon points="223.3,422.7 352.1,422.7 352.1,475.2 223.3,475.2 223.3,451.4 171.6,452.6 223.3,440.2" fill="#fff" stroke="#d8031f" stroke-width="1.95" stroke-linejoin="miter" stroke-miterlimit="20"/></svg>
<div class="t" style="top:434px;font-size:10px;color:#d8031f;left:87.70px;width:400px;text-align:center;-webkit-text-stroke:0.25px #d8031f;letter-spacing:0.088px;">Masked user action from</div>
<div class="t" style="top:445px;font-size:10px;color:#d8031f;left:87.70px;width:400px;text-align:center;-webkit-text-stroke:0.25px #d8031f;letter-spacing:0.240px;">application not in</div>
<div class="t" style="top:456px;font-size:10px;color:#d8031f;left:87.70px;width:400px;text-align:center;-webkit-text-stroke:0.25px #d8031f;letter-spacing:0.040px;">management zone</div>
</body></html>
